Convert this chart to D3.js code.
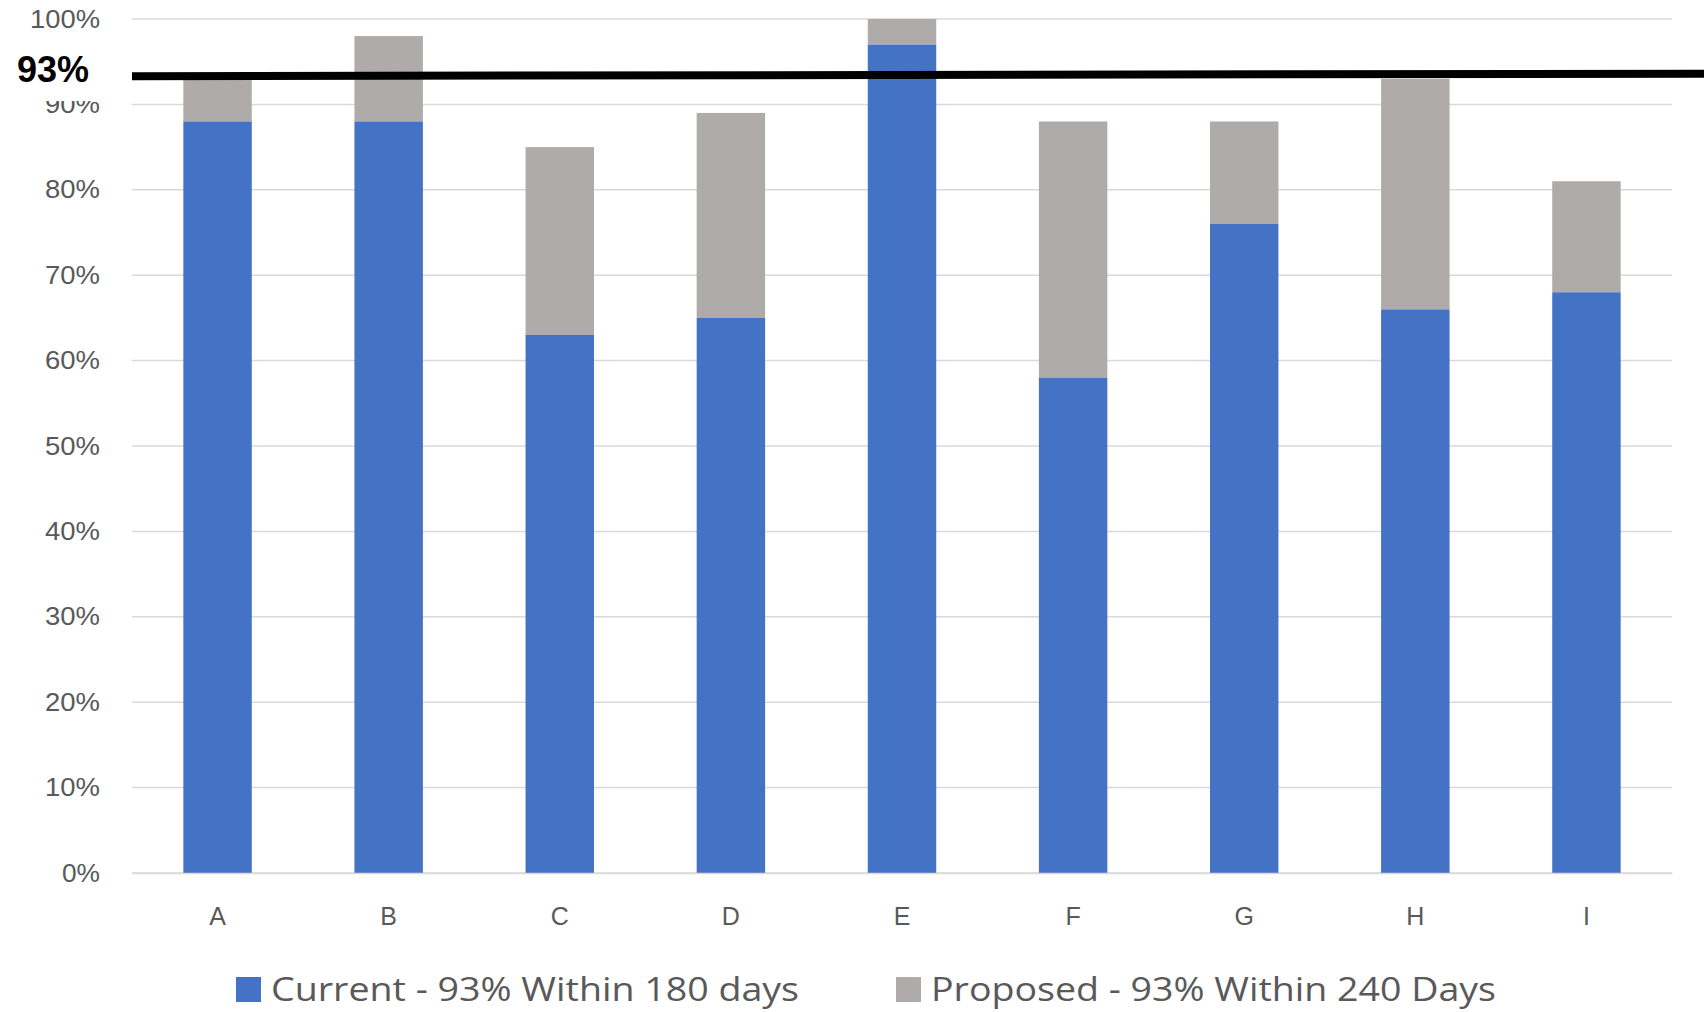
<!DOCTYPE html>
<html><head><meta charset="utf-8">
<script src="https://cdn.jsdelivr.net/npm/d3@7"></script>
<style>body{margin:0;background:#fff;}svg{display:block;}</style>
</head><body>
<svg id="chart" width="1704" height="1012"></svg>
<script>
const categories = ["A","B","C","D","E","F","G","H","I"];
const currentValues = [88, 88, 63, 65, 97, 58, 76, 66, 68];
const proposedTotals = [93, 98, 85, 89, 100, 88, 88, 93, 81];
const yTicks = [0,10,20,30,40,50,60,70,80,90,100];
const targetLine = [93.3, 93.6];
const targetLabel = "93%";
const seriesNames = ["Current - 93% Within 180 days", "Proposed - 93% Within 240 Days"];
const colors = ["#4472C4", "#AFABAB"];

(function(){
const svg = d3.select("#chart");
const pLeft = 132, pRight = 1672, pTop = 19, pBottom = 873;
const x = d3.scaleBand().domain(categories).range([pLeft, pRight]).paddingInner(0.6).paddingOuter(0.3);
const y = d3.scaleLinear().domain([0, 100]).range([pBottom, pTop]);
const font = "'Liberation Sans', Arial, sans-serif";
const textColor = "#595959";

svg.append("g").selectAll("line").data(yTicks).join("line")
  .attr("x1", pLeft).attr("x2", pRight)
  .attr("y1", d => y(d)).attr("y2", d => y(d))
  .attr("stroke", "#D9D9D9").attr("stroke-width", 1.5);

const yAxis = svg.append("g").attr("transform", `translate(${pLeft - 32},0)`)
  .call(d3.axisLeft(y).tickValues(yTicks).tickFormat(d => d + "%").tickSize(0).tickPadding(0));
yAxis.select(".domain").remove();
yAxis.selectAll("text").attr("font-family", font).attr("font-size", 25).attr("fill", textColor)
  .attr("textLength", d => d === 100 ? 70 : (d === 0 ? 38 : 55)).attr("lengthAdjust", "spacingAndGlyphs");

const data = categories.map((c, i) => ({c, cur: currentValues[i], tot: proposedTotals[i]}));
svg.append("g").selectAll("rect").data(data).join("rect")
  .attr("x", d => x(d.c)).attr("width", x.bandwidth())
  .attr("y", d => y(d.tot)).attr("height", d => y(d.cur) - y(d.tot))
  .attr("fill", colors[1]);
svg.append("g").selectAll("rect").data(data).join("rect")
  .attr("x", d => x(d.c)).attr("width", x.bandwidth())
  .attr("y", d => y(d.cur)).attr("height", d => y(0) - y(d.cur))
  .attr("fill", colors[0]);

const xAxis = svg.append("g").attr("transform", `translate(0,${pBottom})`)
  .call(d3.axisBottom(x).tickSize(0).tickPadding(52));
xAxis.select(".domain").attr("stroke", "#D9D9D9").attr("stroke-width", 1.5);
xAxis.selectAll("text").attr("font-family", font).attr("font-size", 25).attr("fill", textColor).attr("dy", 0);

svg.append("line")
  .attr("x1", pLeft).attr("x2", 1704)
  .attr("y1", y(targetLine[0])).attr("y2", y(targetLine[1]))
  .attr("stroke", "#000").attr("stroke-width", 8);

svg.append("rect").attr("x", 0).attr("y", 42).attr("width", 112).attr("height", 59).attr("fill", "#fff");
svg.append("text").attr("x", 17).attr("y", 82)
  .attr("font-family", font).attr("font-weight", "bold").attr("font-size", 36).attr("fill", "#000")
  .text(targetLabel);

const legendX = [236, 896];
const legendW = [528, 565];
const lg = svg.append("g").selectAll("g").data(seriesNames).join("g")
  .attr("transform", (d, i) => `translate(${legendX[i]},977)`);
lg.append("rect").attr("width", 25).attr("height", 25).attr("fill", (d, i) => colors[i]);
lg.append("text").attr("x", 35).attr("y", 24)
  .attr("font-family", "'Open Sans', sans-serif").attr("font-size", 33).attr("fill", textColor)
  .attr("textLength", (d, i) => legendW[i]).attr("lengthAdjust", "spacingAndGlyphs")
  .text(d => d);
})();
</script>
</body></html>
